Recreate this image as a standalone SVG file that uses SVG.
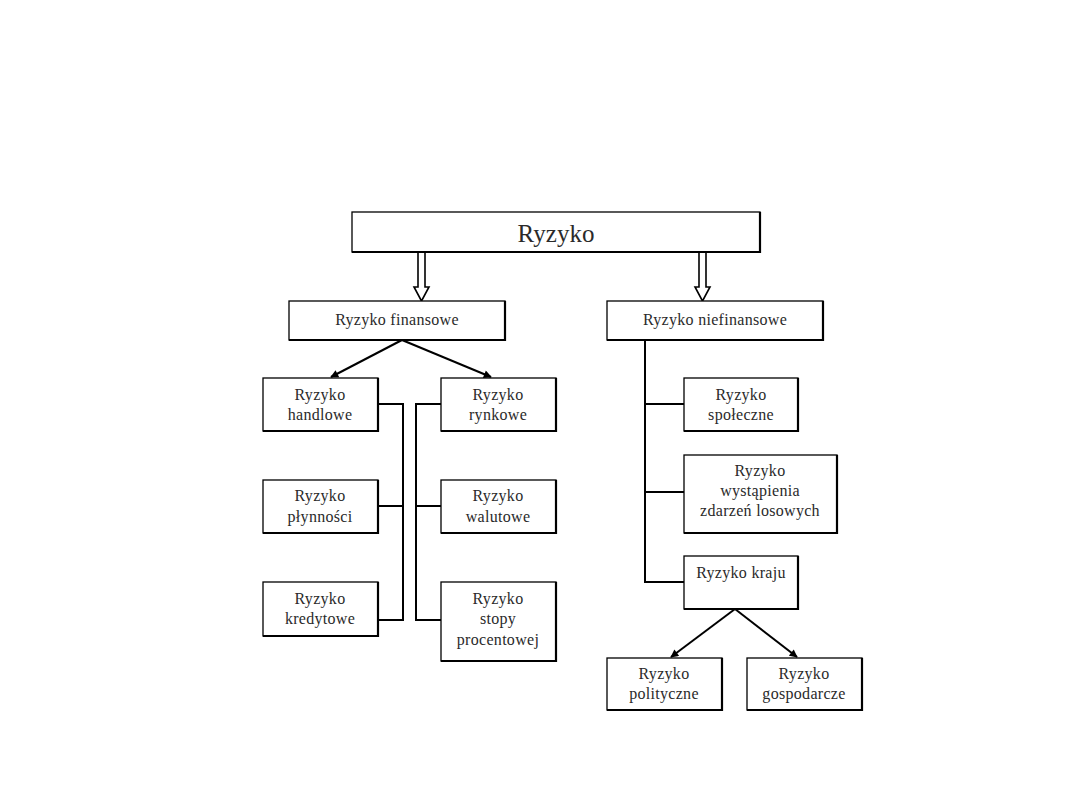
<svg xmlns="http://www.w3.org/2000/svg" width="1080" height="810" viewBox="0 0 1080 810">
<defs>
<style>
.box{fill:#fff;stroke:#000;stroke-width:1.3}
.sh{fill:none;stroke:#000;stroke-width:2.2}
.ln{fill:none;stroke:#000;stroke-width:2}
.t{font-family:"Liberation Serif","Times New Roman",serif;font-size:16px;letter-spacing:0.3px;fill:#2a2a2a;text-anchor:middle}
.big{font-size:25px;letter-spacing:0}
.harrow{fill:#fff;stroke:#000;stroke-width:1.6}
</style>
<marker id="ah" viewBox="0 0 10 10" refX="9" refY="5" markerWidth="9" markerHeight="8" orient="auto" markerUnits="userSpaceOnUse">
<path d="M0,0 L10,5 L0,10 z" fill="#000"/>
</marker>
</defs>
<rect width="1080" height="810" fill="#fff"/>
<g id="connectors">
<path class="harrow" d="M418,252 V287 H414 L421.5,301 L429,287 H425 V252 z"/>
<path class="harrow" d="M699,252 V287 H695 L702.5,301 L710,287 H706 V252 z"/>
<line class="ln" x1="402" y1="340" x2="331" y2="377" marker-end="url(#ah)"/>
<line class="ln" x1="402" y1="340" x2="491" y2="377" marker-end="url(#ah)"/>
<path class="ln" d="M378,404 H403 V620 H378 M378,506 H403"/>
<path class="ln" d="M441,404 H416 V620 H441 M416,506 H441"/>
<path class="ln" d="M645,340 V582 H684 M645,404 H684 M645,492 H684"/>
<line class="ln" x1="735" y1="609" x2="671" y2="657" marker-end="url(#ah)"/>
<line class="ln" x1="735" y1="609" x2="797" y2="657" marker-end="url(#ah)"/>
</g>
<g id="n-ryzyko">
<rect class="box" x="352" y="212" width="408" height="40"/>
<path class="sh" d="M760,212 V252 H352"/>
<text class="t big" x="556" y="242">Ryzyko</text>
</g>
<g id="n-finansowe">
<rect class="box" x="289" y="301" width="216" height="39"/>
<path class="sh" d="M505,301 V340 H289"/>
<text class="t" x="397" y="325">Ryzyko finansowe</text>
</g>
<g id="n-niefinansowe">
<rect class="box" x="607" y="301" width="216" height="39"/>
<path class="sh" d="M823,301 V340 H607"/>
<text class="t" x="715" y="325">Ryzyko niefinansowe</text>
</g>
<g id="n-handlowe">
<rect class="box" x="263" y="378" width="115" height="53"/>
<path class="sh" d="M378,378 V431 H263"/>
<text class="t" x="320" y="400">Ryzyko</text>
<text class="t" x="320" y="420">handlowe</text>
</g>
<g id="n-rynkowe">
<rect class="box" x="441" y="378" width="115" height="53"/>
<path class="sh" d="M556,378 V431 H441"/>
<text class="t" x="498" y="400">Ryzyko</text>
<text class="t" x="498" y="420">rynkowe</text>
</g>
<g id="n-plynnosci">
<rect class="box" x="263" y="480" width="115" height="53"/>
<path class="sh" d="M378,480 V533 H263"/>
<text class="t" x="320" y="501">Ryzyko</text>
<text class="t" x="320" y="522">płynności</text>
</g>
<g id="n-walutowe">
<rect class="box" x="441" y="480" width="115" height="53"/>
<path class="sh" d="M556,480 V533 H441"/>
<text class="t" x="498" y="501">Ryzyko</text>
<text class="t" x="498" y="522">walutowe</text>
</g>
<g id="n-kredytowe">
<rect class="box" x="263" y="582" width="115" height="54"/>
<path class="sh" d="M378,582 V636 H263"/>
<text class="t" x="320" y="604">Ryzyko</text>
<text class="t" x="320" y="624">kredytowe</text>
</g>
<g id="n-stopy">
<rect class="box" x="441" y="582" width="115" height="79"/>
<path class="sh" d="M556,582 V661 H441"/>
<text class="t" x="498" y="604">Ryzyko</text>
<text class="t" x="498" y="624">stopy</text>
<text class="t" x="498" y="645">procentowej</text>
</g>
<g id="n-spoleczne">
<rect class="box" x="684" y="378" width="114" height="53"/>
<path class="sh" d="M798,378 V431 H684"/>
<text class="t" x="741" y="400">Ryzyko</text>
<text class="t" x="741" y="420">społeczne</text>
</g>
<g id="n-wystapienia">
<rect class="box" x="684" y="455" width="153" height="78"/>
<path class="sh" d="M837,455 V533 H684"/>
<text class="t" x="760" y="476">Ryzyko</text>
<text class="t" x="760" y="496">wystąpienia</text>
<text class="t" x="760" y="516">zdarzeń losowych</text>
</g>
<g id="n-kraju">
<rect class="box" x="684" y="556" width="114" height="53"/>
<path class="sh" d="M798,556 V609 H684"/>
<text class="t" x="741" y="578">Ryzyko kraju</text>
</g>
<g id="n-polityczne">
<rect class="box" x="607" y="658" width="115" height="52"/>
<path class="sh" d="M722,658 V710 H607"/>
<text class="t" x="664" y="679">Ryzyko</text>
<text class="t" x="664" y="699">polityczne</text>
</g>
<g id="n-gospodarcze">
<rect class="box" x="747" y="658" width="115" height="52"/>
<path class="sh" d="M862,658 V710 H747"/>
<text class="t" x="804" y="679">Ryzyko</text>
<text class="t" x="804" y="699">gospodarcze</text>
</g>
</svg>
